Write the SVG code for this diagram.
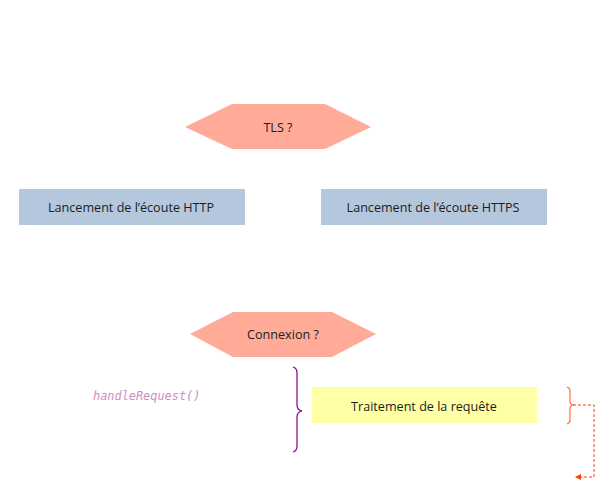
<svg xmlns="http://www.w3.org/2000/svg" width="595" height="491" viewBox="0 0 595 491">
<defs>
<style>
.lbl{font-family:"Open Sans","Liberation Sans",sans-serif;font-size:12.6px;fill:#1c1c1c;text-anchor:middle;dominant-baseline:central}
.hex{fill:#ffab97}
.blue{fill:#b4c7dc}
.yel{fill:#ffffa6}
.code{font-family:"DejaVu Sans Mono","Liberation Mono",monospace;font-style:italic;font-size:11.9px;fill:#cc8fc4}
</style>
<marker id="arr" viewBox="0 0 6 6" refX="5" refY="3" markerWidth="6" markerHeight="6" orient="auto">
<path d="M0,0 L6,3 L0,6 z" fill="#ff4000"/>
</marker>
</defs>
<rect width="595" height="491" fill="#ffffff"/>
<g id="tls">
<polygon class="hex" points="185,127 232,104 325,104 371,127 325,149 232,149"/>
<text class="lbl" x="278" y="127">TLS ?</text>
</g>
<g id="http">
<rect class="blue" x="19" y="189" width="226" height="36"/>
<text class="lbl" x="131" y="207">Lancement de l’écoute HTTP</text>
</g>
<g id="https">
<rect class="blue" x="321" y="189" width="226" height="36"/>
<text class="lbl" x="433" y="207">Lancement de l’écoute HTTPS</text>
</g>
<g id="connexion">
<polygon class="hex" points="190,334 233,312 332,312 376,334 332,357 233,357"/>
<text class="lbl" x="283" y="334">Connexion ?</text>
</g>
<g id="traitement">
<rect class="yel" x="312" y="387" width="225" height="36"/>
<text class="lbl" x="424" y="406">Traitement de la requête</text>
</g>
<g id="handle">
<text class="code" x="93" y="400">handleRequest()</text>
<path d="M293,367 Q297,368 297,373 L297,405 Q297,410 302,411 Q297,412 297,417 L297,446 Q297,451 293,452" fill="none" stroke="#800080" stroke-width="1.2"/>
</g>
<g id="connectors">
<path d="M567,387 Q570,388 570,391 L570,402 Q570,404 573,405 Q570,406 570,408 L570,420 Q570,423 567,424" fill="none" stroke="#ff7040" stroke-width="1.2"/>
<path d="M573,405 L594,405 L594,477 L576,477" fill="none" stroke="#ff4000" stroke-width="1" stroke-dasharray="3,2" marker-end="url(#arr)"/>
</g>
</svg>
